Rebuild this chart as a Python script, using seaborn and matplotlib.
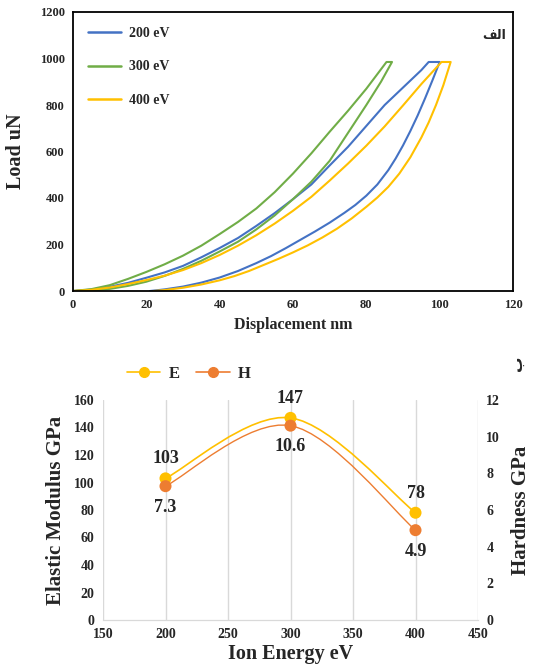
import numpy as np
import pandas as pd
import matplotlib
matplotlib.use("Agg")
import matplotlib.pyplot as plt
from matplotlib.path import Path
from matplotlib.patches import PathPatch
from matplotlib.lines import Line2D
import seaborn as sns

# ---------------- load-displacement curves (nm, uN) ----------------
series_names = ["200 eV", "300 eV", "400 eV"]

disp_200 = [0, 5, 10, 15, 20, 25, 30, 35, 40, 45, 50, 55, 60, 65, 70, 75, 80, 85, 90, 95, 97,
            100, 98, 96, 94, 92, 90, 88, 86, 83, 80, 77, 74, 70, 66, 62, 58, 54, 50, 45, 40, 35, 30, 25, 21]
load_200 = [0, 6, 18, 35, 57, 80, 108, 145, 185, 228, 280, 335, 395, 458, 540, 620, 710, 800, 875, 950, 985,
            985, 905, 828, 755, 688, 626, 570, 520, 458, 410, 370, 336, 294, 256, 220, 184, 150, 120, 86, 58, 36, 19, 7, 0]

disp_300 = [0, 5, 10, 15, 20, 25, 30, 35, 40, 45, 50, 55, 60, 65, 70, 75, 80, 85.5,
            87, 84, 80, 75, 70, 65, 60, 55, 50, 45, 40, 35, 30, 25, 20, 15, 10, 5, 2]
load_300 = [0, 8, 25, 52, 82, 115, 152, 195, 245, 297, 355, 425, 505, 592, 685, 775, 870, 985,
            985, 900, 800, 680, 560, 470, 395, 325, 265, 212, 170, 130, 95, 65, 40, 22, 9, 2, 0]

disp_400 = [0, 5, 10, 15, 20, 25, 30, 35, 40, 45, 50, 55, 60, 65, 70, 75, 80, 85, 90, 95, 100.5,
            103, 101, 99, 97, 95, 92, 89, 86, 83, 80, 76, 72, 68, 64, 60, 56, 52, 48, 44, 40, 35, 30, 25, 22]
load_400 = [0, 5, 15, 30, 47, 66, 90, 120, 155, 195, 240, 290, 345, 405, 475, 548, 625, 708, 798, 890, 985,
            985, 885, 800, 725, 660, 575, 505, 448, 402, 362, 312, 268, 230, 196, 166, 138, 112, 86, 64, 46, 28, 14, 4, 0]

# ---------------- mechanical properties vs ion energy ----------------
ion_energy = [200, 300, 400]
modulus_E = [103, 147, 78]      # GPa
hardness_H = [7.3, 10.6, 4.9]   # GPa

sns.set_style("white")
plt.rcParams["font.family"] = ["Liberation Serif", "DejaVu Sans"]
plt.rcParams["font.weight"] = "bold"

fig = plt.figure(figsize=(5.34, 6.68), dpi=100)

# ======== top panel ========
ax1 = fig.add_axes([73 / 534, 1 - 291 / 668, 440 / 534, 279 / 668])

frames = []
for name, d, l in zip(series_names, [disp_200, disp_300, disp_400],
                      [load_200, load_300, load_400]):
    frames.append(pd.DataFrame({"Displacement": d, "Load": l, "Series": name}))
curves = pd.concat(frames, ignore_index=True)

palette = {"200 eV": "#4472C4", "300 eV": "#70AD47", "400 eV": "#FFC000"}
sns.lineplot(data=curves, x="Displacement", y="Load", hue="Series", sort=False,
             estimator=None, palette=palette, linewidth=1.5, ax=ax1, legend=False)

ax1.set_xlim(0, 120)
ax1.set_ylim(0, 1200)
ax1.set_xticks(range(0, 121, 20))
ax1.set_yticks(range(0, 1201, 200))
ax1.tick_params(length=0, labelsize=9, pad=6)
for lab in ax1.get_xticklabels() + ax1.get_yticklabels():
    lab.set_fontweight("bold")
for sp in ax1.spines.values():
    sp.set_color("black")
    sp.set_linewidth(1.3)
ax1.set_xlabel("Displacement nm", fontsize=11.5, fontweight="bold", labelpad=4)
ax1.set_ylabel("Load uN", fontsize=14.5, fontweight="bold", labelpad=10)

handles = [Line2D([0], [0], color=palette[n], lw=1.8) for n in series_names]
ax1.legend(handles, series_names, loc="upper left", frameon=False,
           prop={"weight": "bold", "size": 10}, handlelength=2.4, handletextpad=0.6,
           labelspacing=1.45, borderaxespad=0.5, bbox_to_anchor=(0.005, 0.99))

# panel letter (alef-lam-feh, shaped glyphs in visual order)
ax1.text(0.985, 0.915, "\uFED2\uFEDF\uFE8D", transform=ax1.transAxes, ha="right", va="center",
         fontsize=9, fontweight="bold", family=["DejaVu Sans"])

# ======== bottom panel ========
ax2 = fig.add_axes([103 / 534, 1 - 620 / 668, 375 / 534, 220 / 668])
ax3 = ax2.twinx()


def smooth_path(xs, ys):
    """Cubic Bezier path through the points, Excel-style smoothing."""
    pts = np.column_stack([xs, ys]).astype(float)
    n = len(pts)
    verts = [pts[0]]
    codes = [Path.MOVETO]
    for i in range(n - 1):
        p0 = pts[max(i - 1, 0)]
        p1 = pts[i]
        p2 = pts[i + 1]
        p3 = pts[min(i + 2, n - 1)]
        c1 = p1 + (p2 - p0) / 6.0
        c2 = p2 - (p3 - p1) / 6.0
        verts += [c1, c2, p2]
        codes += [Path.CURVE4] * 3
    return Path(verts, codes)


col_E = "#FFC000"
col_H = "#ED7D31"

ax2.add_patch(PathPatch(smooth_path(ion_energy, modulus_E), fill=False,
                        edgecolor=col_E, lw=1.2, zorder=2))
ax3.add_patch(PathPatch(smooth_path(ion_energy, hardness_H), fill=False,
                        edgecolor=col_H, lw=1.0, zorder=2))

sns.scatterplot(x=ion_energy, y=modulus_E, color=col_E, s=75, edgecolor="none",
                ax=ax2, zorder=4)
sns.scatterplot(x=ion_energy, y=hardness_H, color=col_H, s=75, edgecolor="none",
                ax=ax3, zorder=4)

ax2.set_xlim(150, 450)
ax2.set_ylim(0, 160)
ax3.set_ylim(0, 12)
ax2.set_xticks(range(150, 451, 50))
ax2.set_yticks(range(0, 161, 20))
ax3.set_yticks(range(0, 13, 2))
ax2.grid(axis="x", color="#D9D9D9", lw=1)
ax2.set_axisbelow(True)
for a in (ax2, ax3):
    for s in ("top", "left", "right"):
        a.spines[s].set_visible(False)
    a.spines["bottom"].set_color("#D9D9D9")
    a.tick_params(length=0, labelsize=10, pad=6)
for lab in ax2.get_xticklabels() + ax2.get_yticklabels() + ax3.get_yticklabels():
    lab.set_fontweight("bold")

ax2.set_xlabel("Ion Energy eV", fontsize=14.5, fontweight="bold", labelpad=2)
ax2.set_ylabel("Elastic Modulus GPa", fontsize=15, fontweight="bold", labelpad=6)
ax3.set_ylabel("Hardness GPa", fontsize=15, fontweight="bold", labelpad=8)

for x, e in zip(ion_energy, modulus_E):
    ax2.annotate(f"{e:g}", (x, e), xytext=(0, 8), textcoords="offset points",
                 ha="center", va="bottom", fontsize=13, fontweight="bold")
for x, h in zip(ion_energy, hardness_H):
    ax3.annotate(f"{h:g}", (x, h), xytext=(0, -9), textcoords="offset points",
                 ha="center", va="top", fontsize=13, fontweight="bold")

leg_handles = [Line2D([0], [0], color=col_E, lw=1.2, marker="o", markersize=7),
               Line2D([0], [0], color=col_H, lw=1.2, marker="o", markersize=7)]
fig.legend(leg_handles, ["E", "H"], loc="center left", bbox_to_anchor=(112 / 534, 1 - 374 / 668),
           ncol=2, frameon=False, prop={"weight": "bold", "size": 12}, handlelength=2.0,
           columnspacing=1.0, handletextpad=0.5)

fig.text(517 / 534, 1 - 363 / 668, "\u0628", rotation=90, ha="center", va="center",
         fontsize=11, fontweight="bold", family=["DejaVu Sans"])

fig.savefig("out.png", dpi=100, facecolor="white")
